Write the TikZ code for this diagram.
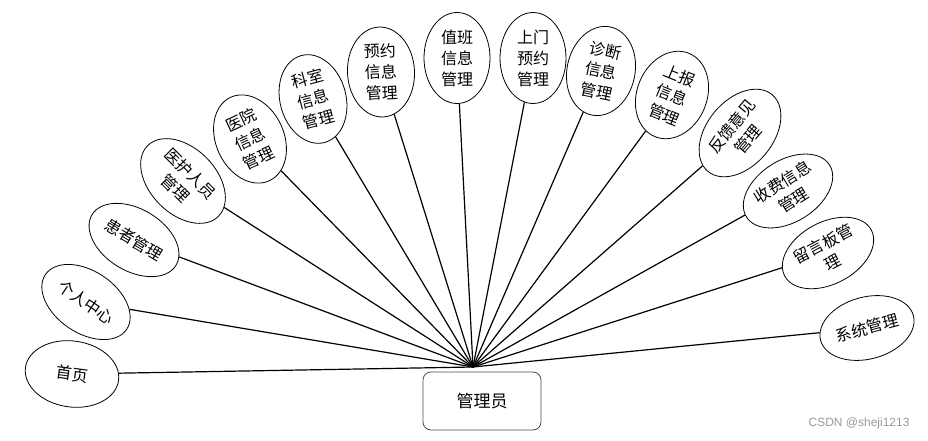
\documentclass[tikz,border=0pt]{standalone}
\usepackage{fontspec}
\setmainfont{Noto Sans CJK SC}
\newfontfamily\wmfont{Liberation Sans}
\usetikzlibrary{shapes.geometric}

\begin{document}
\begin{tikzpicture}[x=1pt,y=-1pt,
  func/.style={draw=black,ellipse,inner sep=0pt,align=center,line width=.8pt,font=\fontsize{16}{21}\selectfont},
  role/.style={draw=black!70,rounded corners=8pt,line width=.8pt,minimum width=118pt,minimum height=58pt,font=\fontsize{17}{20}\selectfont},
  spoke/.style={draw=black,line width=1.2pt}]
\useasboundingbox (0,0) rectangle (928,441);
\node[role] (adm) at (482,401) {管理员};
\coordinate (hub) at (473,367);
% left half of the fan
\node[func,minimum width=94pt,minimum height=66pt,rotate=-8] (home) at (72,374) {首页};
\node[func,minimum width=98pt,minimum height=62pt,rotate=-34] (mine) at (86,302) {个人中心};
\node[func,minimum width=98pt,minimum height=62pt,rotate=-31] (pat) at (134,240) {患者管理};
\node[func,minimum width=100pt,minimum height=66pt,rotate=-45] (staff) at (183,181) {医护人员\\管理};
\node[func,minimum width=68pt,minimum height=92pt,rotate=25] (hosp) at (250,139) {医院\\信息\\管理};
\node[func,minimum width=66pt,minimum height=90pt,rotate=15] (dept) at (313,99) {科室\\信息\\管理};
\node[func,minimum width=67pt,minimum height=90pt,rotate=3] (appt) at (381,72) {预约\\信息\\管理};
\node[func,minimum width=66pt,minimum height=91pt] (duty) at (457,58) {值班\\信息\\管理};
% right half of the fan
\node[func,minimum width=66pt,minimum height=91pt] (visit) at (533,58) {上门\\预约\\管理};
\node[func,minimum width=68pt,minimum height=90pt,rotate=-12] (diag) at (601,71) {诊断\\信息\\管理};
\node[func,minimum width=70pt,minimum height=90pt,rotate=-22] (rep) at (672,95) {上报\\信息\\管理};
\node[func,minimum width=100pt,minimum height=66pt,rotate=50] (fb) at (740,133) {反馈意见\\管理};
\node[func,minimum width=98pt,minimum height=62pt,rotate=32] (fee) at (788,191) {收费信息\\管理};
\node[func,minimum width=98pt,minimum height=62pt,rotate=28] (msg) at (828,253) {留言板管\\理};
\node[func,minimum width=96pt,minimum height=62pt,rotate=15] (sys) at (867,328) {系统管理};
\draw[spoke] (home)--(hub); \draw[spoke] (mine)--(hub); \draw[spoke] (pat)--(hub);
\draw[spoke] (staff)--(hub); \draw[spoke] (hosp)--(hub); \draw[spoke] (dept)--(hub);
\draw[spoke] (appt)--(hub); \draw[spoke] (duty)--(hub); \draw[spoke] (visit)--(hub);
\draw[spoke] (diag)--(hub); \draw[spoke] (rep)--(hub); \draw[spoke] (fb)--(hub);
\draw[spoke] (fee)--(hub); \draw[spoke] (msg)--(hub); \draw[spoke] (sys)--(hub);
\node[anchor=east,text=black!40,font=\wmfont\fontsize{12}{14}\selectfont] (wm) at (913,423) {CSDN @sheji1213};
\end{tikzpicture}
\end{document}
